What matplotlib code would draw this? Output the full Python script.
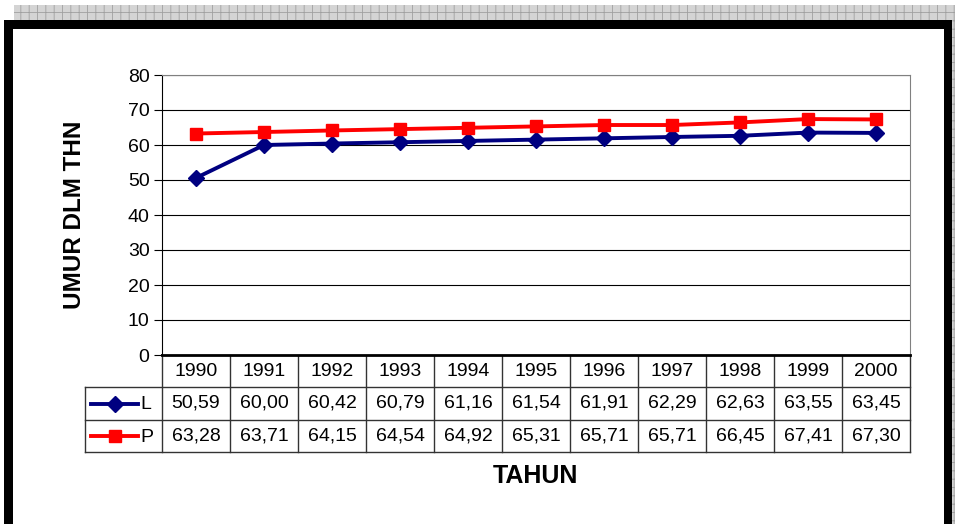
import matplotlib.pyplot as plt
from matplotlib.patches import Rectangle
from matplotlib.lines import Line2D

plt.rcParams['font.family'] = ['Liberation Sans', 'DejaVu Sans']
plt.rcParams['hatch.color'] = '#a0a0a0'
plt.rcParams['hatch.linewidth'] = 0.6

# Data
years = ['1990', '1991', '1992', '1993', '1994', '1995', '1996', '1997', '1998', '1999', '2000']
laki = [50.59, 60.00, 60.42, 60.79, 61.16, 61.54, 61.91, 62.29, 62.63, 63.55, 63.45]
perempuan = [63.28, 63.71, 64.15, 64.54, 64.92, 65.31, 65.71, 65.71, 66.45, 67.41, 67.30]
series_names = ['L', 'P']

W, H = 955, 524
fig = plt.figure(figsize=(W / 100, H / 100), dpi=100)
fig.patch.set_facecolor('white')

# background overlay in pixel coords
bg = fig.add_axes([0, 0, 1, 1])
bg.set_xlim(0, W)
bg.set_ylim(H, 0)
bg.axis('off')

# hatched gray strip at top and right
bg.add_patch(Rectangle((14, 5), W - 14, 17, facecolor='#d4d4d4', edgecolor='#a0a0a0',
                       hatch='++', linewidth=0))
bg.add_patch(Rectangle((944, 5), 11, H, facecolor='#d4d4d4', edgecolor='#a0a0a0',
                       hatch='++', linewidth=0))
# black frame
bg.add_patch(Rectangle((4, 20), 948, H, facecolor='white', edgecolor='none'))
bg.add_patch(Rectangle((4, 20), 948, 9, facecolor='black', edgecolor='none'))
bg.add_patch(Rectangle((4, 20), 9, H, facecolor='black', edgecolor='none'))
bg.add_patch(Rectangle((944, 20), 8, H, facecolor='black', edgecolor='none'))

# plot area
px_l, px_r, px_t, px_b = 162, 910, 75, 355
ax = fig.add_axes([px_l / W, 1 - px_b / H, (px_r - px_l) / W, (px_b - px_t) / H])
x = list(range(len(years)))
ax.plot(x, laki, color='#000080', lw=2.8, marker='D', ms=8, zorder=3)
ax.plot(x, perempuan, color='#ff0000', lw=2.8, marker='s', ms=8, zorder=3)
ax.set_xlim(-0.5, len(years) - 0.5)
ax.set_ylim(0, 80)
ax.set_yticks(range(0, 81, 10))
ax.set_xticks([])
for v in range(10, 81, 10):
    ax.axhline(v, color='black', lw=0.8, zorder=1)
for s in ['top', 'right']:
    ax.spines[s].set_color('#808080')
    ax.spines[s].set_linewidth(0.8)
ax.spines['left'].set_color('black')
ax.spines['left'].set_linewidth(0.8)
ax.spines['bottom'].set_linewidth(2)
ax.tick_params(axis='y', direction='out', length=6, width=0.8, labelsize=14, pad=3)

ax.set_ylabel('UMUR DLM THN', fontsize=17.5, fontweight='bold', labelpad=30)

# data table under the axis
col_w = (px_r - px_l) / len(years)
tab_l = 85
rows_y = [355, 387, 420, 452]
lc = '#333333'
bg.plot([px_l, px_r], [rows_y[0], rows_y[0]], color='black', lw=1.2)
for yy in rows_y[1:]:
    bg.plot([tab_l, px_r], [yy, yy], color=lc, lw=1)
bg.plot([tab_l, tab_l], [rows_y[1], rows_y[3]], color=lc, lw=1)
for i in range(len(years) + 1):
    xx = px_l + i * col_w
    bg.plot([xx, xx], [rows_y[0], rows_y[3]], color=lc, lw=1)

fmt = lambda v: f'{v:.2f}'.replace('.', ',')
for i, yr in enumerate(years):
    cx = px_l + (i + 0.5) * col_w
    bg.text(cx, (rows_y[0] + rows_y[1]) / 2, yr, ha='center', va='center', fontsize=14)
    bg.text(cx, (rows_y[1] + rows_y[2]) / 2, fmt(laki[i]), ha='center', va='center', fontsize=14)
    bg.text(cx, (rows_y[2] + rows_y[3]) / 2, fmt(perempuan[i]), ha='center', va='center', fontsize=14)

# legend keys inside the table
keys = [('#000080', 'D'), ('#ff0000', 's')]
for r, (name, (c, m)) in enumerate(zip(series_names, keys)):
    cy = (rows_y[r + 1] + rows_y[r + 2]) / 2
    bg.add_line(Line2D([91, 138], [cy, cy], color=c, lw=2.8))
    bg.add_line(Line2D([115], [cy], color=c, marker=m, ms=8, lw=0))
    bg.text(140, cy + 1, name, ha='left', va='center', fontsize=14)

bg.text(535, 476, 'TAHUN', ha='center', va='center', fontsize=18, fontweight='bold')

fig.savefig('out.png', dpi=100, facecolor='white')
